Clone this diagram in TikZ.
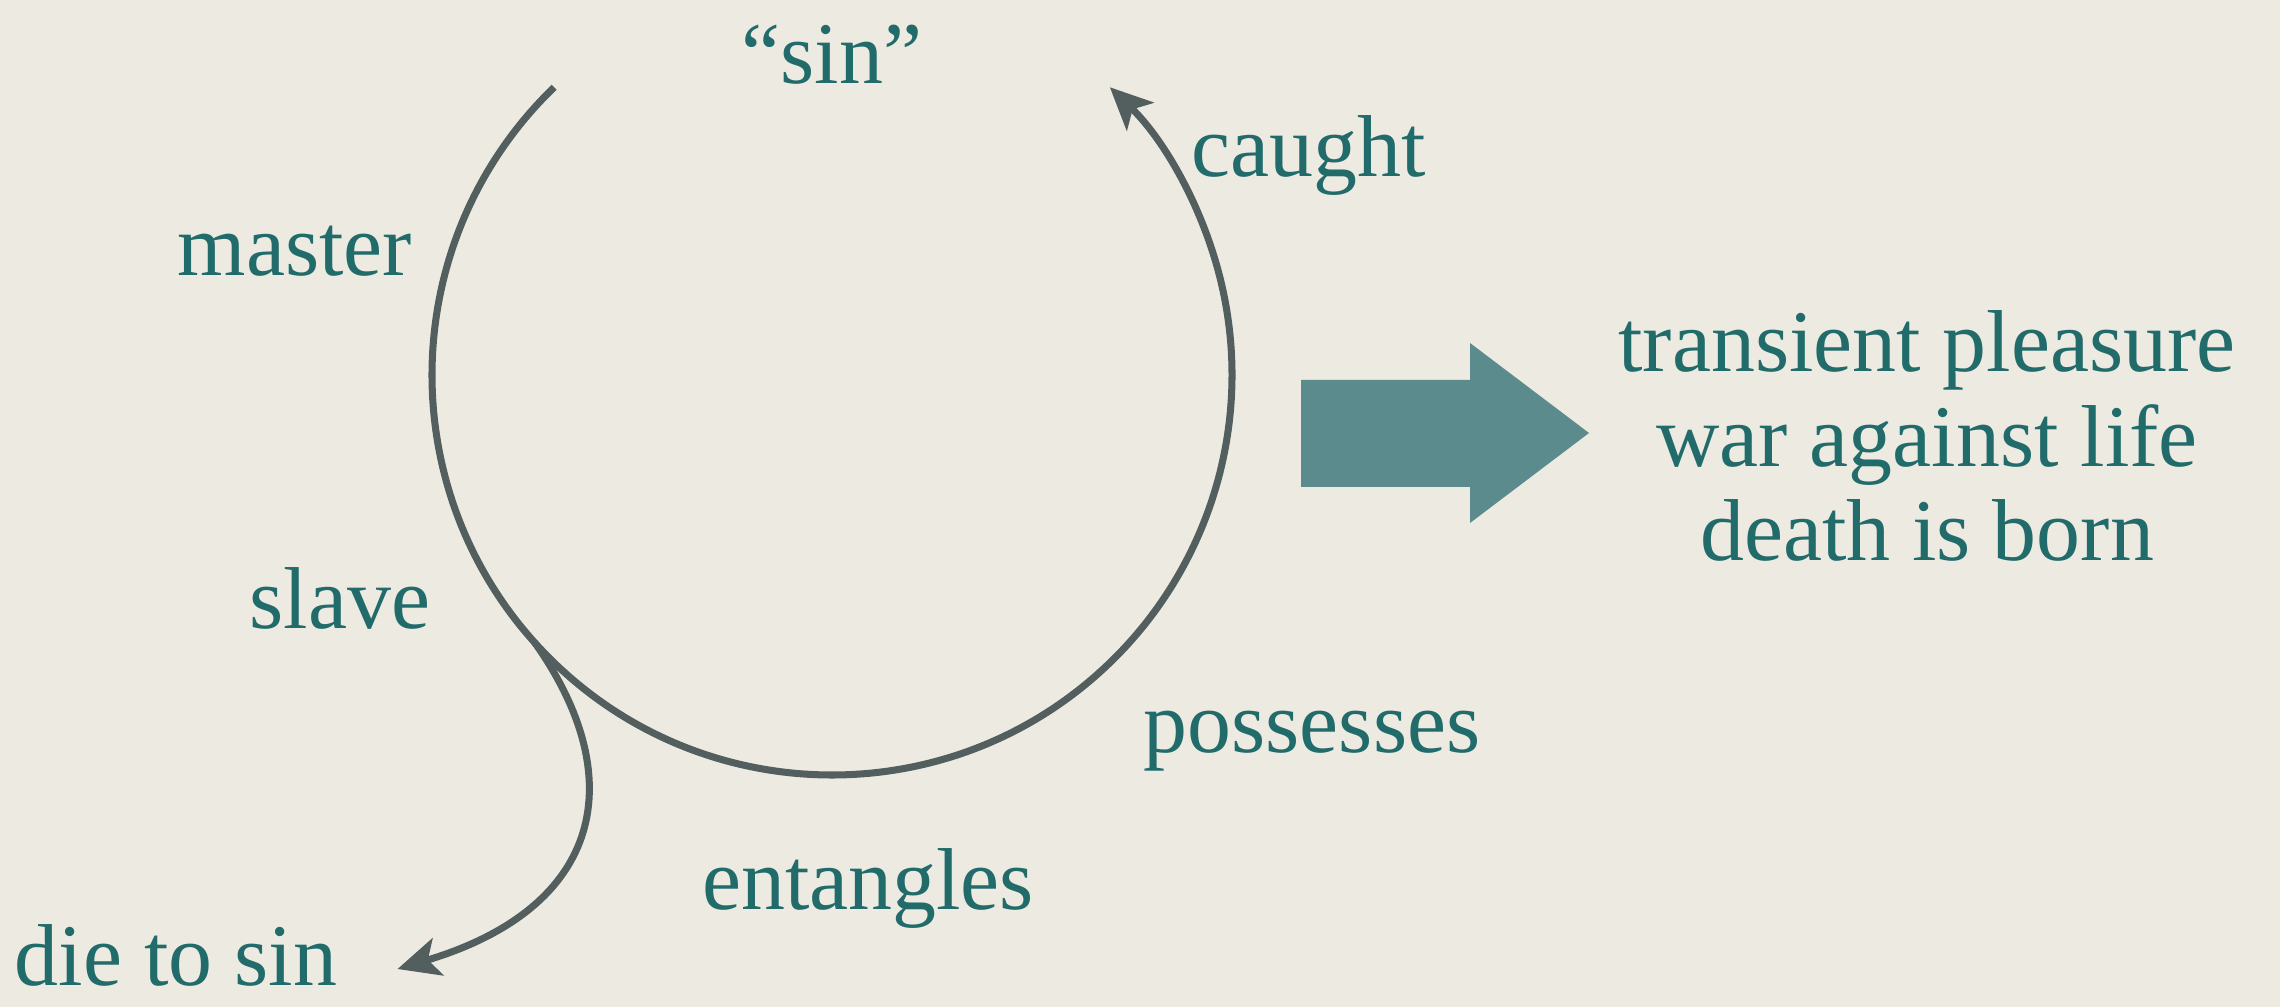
\documentclass[tikz,border=0pt]{standalone}
\usepackage{fontspec}
\setmainfont{Liberation Serif}
\usepackage{xcolor}
\usetikzlibrary{arrows.meta, calc}
\definecolor{sbg}{HTML}{EDEAE2}
\definecolor{steal}{HTML}{226B6B}
\definecolor{sgrey}{HTML}{535E5F}
\definecolor{sarrow}{HTML}{5B8B8C}
\tikzset{
  lbl/.style={font=\fontsize{25}{27}\selectfont, text=steal, anchor=base, inner sep=1pt},
  cycleline/.style={draw=sgrey, line width=2pt, -{Stealth[length=12pt, width=11pt, inset=3pt]}}
}

\begin{document}
\begin{tikzpicture}[x=1cm, y=1cm]
\fill[sbg] (0,0) rectangle (22.8,10.07);
\coordinate (hub) at (8.32,6.32);
\node[lbl] (sin) at (8.32,9.23) {“sin”};
\node[lbl] (caught) at (13.09,8.30) {caught};
\node[lbl] (master) at (2.95,7.31) {master};
\node[lbl] (slave) at (3.40,3.79) {slave};
\node[lbl] (possesses) at (13.12,2.54) {possesses};
\node[lbl] (entangles) at (8.68,0.98) {entangles};
\node[lbl] (die) at (1.76,0.22) {die to sin};
\draw[cycleline] ($(hub)+(134:4)$) arc[start angle=134, end angle=406, radius=4];
\coordinate (fork) at ($(hub)+(222:4)$);
\draw[cycleline] (fork) .. controls (6.3,2.3) and (6.05,1.0) .. ([xshift=16pt,yshift=-4pt]die.east);
\fill[sarrow] (13.01,6.27) -- (14.70,6.27) -- (14.70,6.64) -- (15.89,5.74)
  -- (14.70,4.84) -- (14.70,5.20) -- (13.01,5.20) -- cycle;
\node[lbl, anchor=center, align=center] (result) at (19.27,5.71)
  {transient pleasure\\war against life\\death is born};
\end{tikzpicture}
\end{document}
